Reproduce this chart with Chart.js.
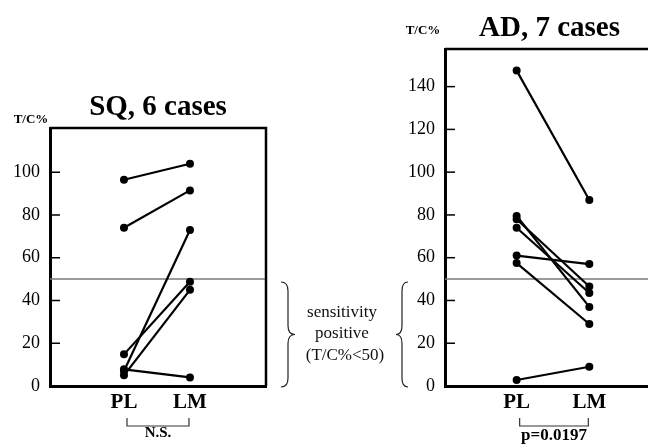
<!DOCTYPE html>
<html>
<head>
<meta charset="utf-8">
<script src="https://cdn.jsdelivr.net/npm/chart.js@4.4.1/dist/chart.umd.min.js"></script>
<style>
  html, body { margin: 0; padding: 0; background: #fff; overflow: hidden; width: 648px; height: 446px; }
  body { position: relative; }
  canvas { position: absolute; top: 0; }
  #sq { left: 0; }
  #ad { left: 395px; }
</style>
</head>
<body>
<canvas id="sq" width="420" height="446"></canvas>
<canvas id="ad" width="265" height="446"></canvas>
<script>
// T/C% per case: primary lesion (PL) vs lymph node metastasis (LM)
const groups = ['PL', 'LM'];
const sqPL = [96.5, 74, 7, 14.8, 5, 7.8];
const sqLM = [104, 91.5, 73, 48.8, 45, 4];
const adPL = [147.5, 79.5, 78, 74, 61, 57.5, 2.8];
const adLM = [87, 37, 46.5, 43.5, 57, 29, 9];
const sqTicks = [0, 20, 40, 60, 80, 100];
const adTicks = [0, 20, 40, 60, 80, 100, 120, 140];
const cutoff = 50;

const SERIF = '"Liberation Serif", "Times New Roman", serif';

function drawBrace(ctx, xb, xt, y0, y1) {
  // curly brace, body at xb, tip pointing to xt
  const ym = (y0 + y1) / 2;
  const xm = (xb + xt) / 2;
  const r = 9;
  ctx.beginPath();
  ctx.moveTo(xb, y0);
  ctx.quadraticCurveTo(xm, y0, xm, y0 + r);
  ctx.lineTo(xm, ym - r);
  ctx.quadraticCurveTo(xm, ym, xt, ym);
  ctx.quadraticCurveTo(xm, ym, xm, ym + r);
  ctx.lineTo(xm, y1 - r);
  ctx.quadraticCurveTo(xm, y1, xb, y1);
  ctx.stroke();
}

function extras(cfg) {
  return {
    id: 'extras',
    afterDraw(chart) {
      const { ctx, chartArea: a, scales: { x, y } } = chart;
      ctx.save();
      ctx.strokeStyle = '#000';
      ctx.lineWidth = 2.5;
      ctx.beginPath();
      ctx.moveTo(a.left, a.top);
      ctx.lineTo(a.right, a.top);
      if (cfg.rightBorder) ctx.lineTo(a.right, a.bottom);
      ctx.stroke();

      // inward tick marks
      ctx.lineWidth = 1.5;
      cfg.ticks.forEach(v => {
        if (v === 0) return;
        const py = y.getPixelForValue(v);
        ctx.beginPath();
        ctx.moveTo(a.left, py);
        ctx.lineTo(a.left + 10, py);
        ctx.stroke();
      });

      ctx.fillStyle = '#000';
      ctx.textAlign = 'center';
      ctx.textBaseline = 'alphabetic';
      ctx.font = 'bold 29px ' + SERIF;
      ctx.fillText(cfg.title, (a.left + a.right) / 2, a.top - 13);

      ctx.font = 'bold 13px ' + SERIF;
      ctx.fillText('T/C%', cfg.unitX, cfg.unitY);

      // bracket between PL and LM
      const x1 = x.getPixelForValue(1) + 3;
      const x2 = x.getPixelForValue(2) - 1;
      const b0 = a.bottom + 32, b1 = a.bottom + 40;
      ctx.strokeStyle = '#333';
      ctx.lineWidth = 1.2;
      ctx.beginPath();
      ctx.moveTo(x1, b0);
      ctx.lineTo(x1, b1);
      ctx.lineTo(x2, b1);
      ctx.lineTo(x2, b0);
      ctx.stroke();
      ctx.font = 'bold ' + cfg.statSize + 'px ' + SERIF;
      ctx.fillText(cfg.stat, (x1 + x2) / 2, cfg.statY);

      if (cfg.middle) {
        ctx.strokeStyle = '#222';
        ctx.lineWidth = 1.2;
        drawBrace(ctx, 281, 295, 282, 387);
        drawBrace(ctx, 408, 396, 282, 387);
        ctx.font = '17px ' + SERIF;
        ctx.fillStyle = '#111';
        ctx.fillText('sensitivity', 342, 317);
        ctx.fillText('positive', 342, 338);
        ctx.fillText('(T/C%<50)', 345, 360);
      }
      ctx.restore();
    }
  };
}

function makeChart(id, pl, lm, ticks, xmin, xmax, ymax, padding, cfg) {
  const datasets = pl.map((v, i) => ({
    data: [{ x: 1, y: v }, { x: 2, y: lm[i] }],
    borderColor: '#000',
    borderWidth: 2.2,
    pointRadius: 4,
    pointBackgroundColor: '#000',
    pointBorderWidth: 0
  }));
  datasets.push({
    data: [{ x: xmin, y: cutoff }, { x: xmax, y: cutoff }],
    borderColor: '#7a7a7a',
    borderWidth: 1.5,
    pointRadius: 0
  });

  return new Chart(document.getElementById(id), {
    type: 'line',
    data: { datasets },
    options: {
      responsive: false,
      animation: false,
      layout: { padding },
      plugins: { legend: { display: false }, tooltip: { enabled: false } },
      scales: {
        x: {
          type: 'linear',
          min: xmin,
          max: xmax,
          afterBuildTicks: s => { s.ticks = [{ value: 1 }, { value: 2 }]; },
          afterFit: s => { s.height = 60; },
          grid: { display: false, drawTicks: false },
          border: { display: true, color: '#000', width: 3 },
          ticks: {
            padding: 4,
            color: '#000',
            font: { family: SERIF, size: 21, weight: 'bold' },
            callback: v => groups[v - 1]
          }
        },
        y: {
          min: 0,
          max: ymax,
          afterBuildTicks: s => { s.ticks = ticks.map(v => ({ value: v })); },
          afterFit: s => { s.width = 50; },
          grid: { display: false, drawTicks: false },
          border: { display: true, color: '#000', width: 3 },
          ticks: {
            padding: 10,
            color: '#000',
            font: { family: SERIF, size: 18 }
          }
        }
      }
    },
    plugins: [extras(Object.assign({ ticks }, cfg))]
  });
}

makeChart('sq', sqPL, sqLM, sqTicks, -0.121, 3.152, 120.7,
  { top: 128, right: 154, left: 0, bottom: 0 },
  { title: 'SQ, 6 cases', rightBorder: true, unitX: 31, unitY: 123,
    stat: 'N.S.', statSize: 15, statY: 437, middle: true });

makeChart('ad', adPL, adLM, adTicks, 0.014, 2.89, 157.6,
  { top: 49, right: 6, left: 0, bottom: 0 },
  { title: 'AD, 7 cases', rightBorder: false, unitX: 28, unitY: 34,
    stat: 'p=0.0197', statSize: 17, statY: 440, middle: false });
</script>
</body>
</html>
